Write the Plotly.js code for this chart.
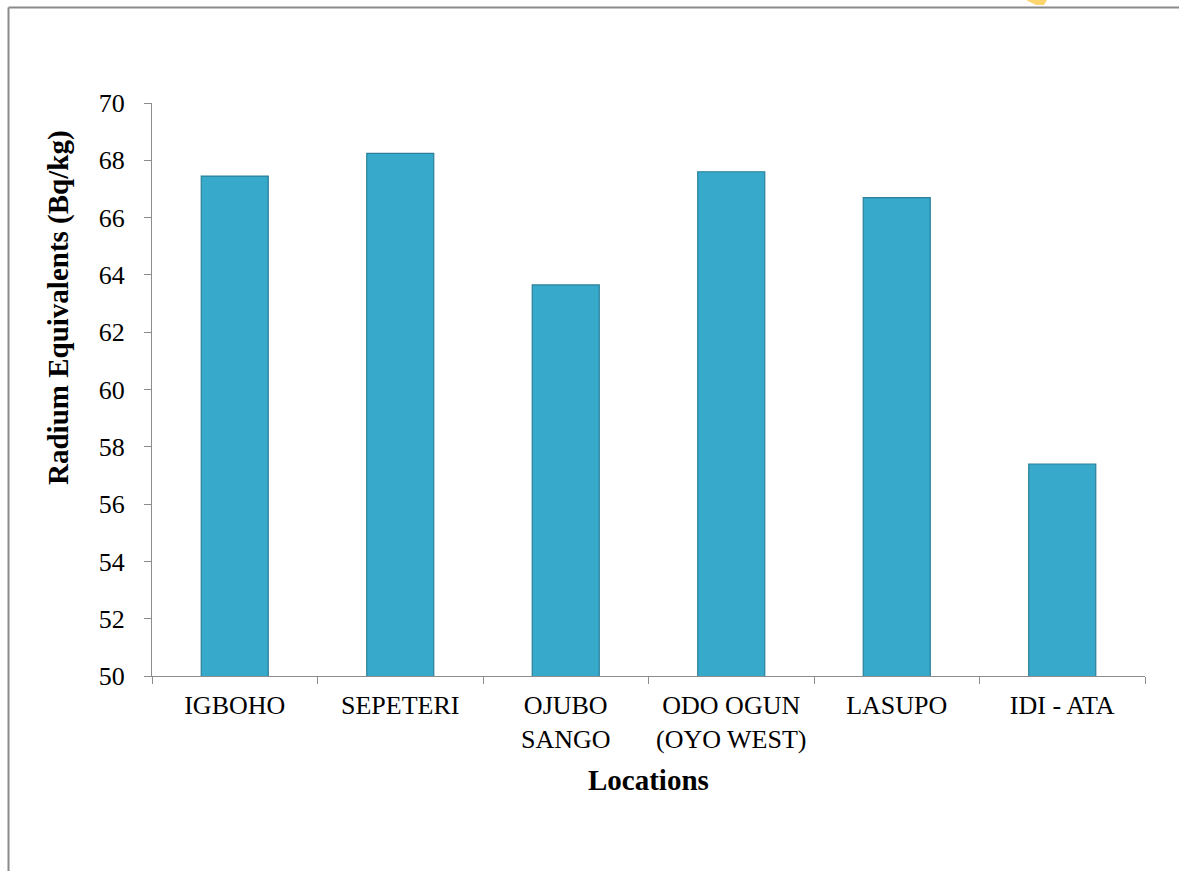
<!DOCTYPE html>
<html>
<head>
<meta charset="utf-8">
<script src="https://cdn.plot.ly/plotly-3.0.1.min.js"></script>
<style>
  html, body { margin: 0; padding: 0; background: #ffffff; }
  #chart { width: 1179px; height: 871px; }
</style>
</head>
<body>
<div id="chart"></div>
<script>
// Data
const locations = ["IGBOHO", "SEPETERI", "OJUBO<br>SANGO", "ODO OGUN<br>(OYO WEST)", "LASUPO", "IDI - ATA"];
const radiumEquivalents = [67.45, 68.24, 63.65, 67.6, 66.7, 57.4];
const yTickValues = [50, 52, 54, 56, 58, 60, 62, 64, 66, 68, 70];

const W = 1179, H = 871;
const L = 152, R = 34, T = 103, B = 195;
const pw = W - L - R, ph = H - T - B;
const px = v => (v - L) / pw;      // pixel -> paper x
const py = v => (H - B - v) / ph;  // pixel -> paper y

const serif = "Liberation Serif, Times New Roman, serif";
const axisGray = "#8c8c8c";

const trace = {
  type: "bar",
  x: locations,
  y: radiumEquivalents,
  marker: {
    color: "#37a9ca",
    line: { color: "#2a8099", width: 1.2 }
  },
  hoverinfo: "x+y"
};

const layout = {
  width: W, height: H,
  margin: { l: L, r: R, t: T, b: B },
  paper_bgcolor: "#ffffff",
  plot_bgcolor: "#ffffff",
  showlegend: false,
  bargap: 0.595,
  font: { family: serif, color: "#000000", size: 26 },
  xaxis: {
    type: "category",
    showline: true, linecolor: axisGray, linewidth: 1,
    ticks: "outside", ticklen: 7, tickcolor: axisGray,
    tickson: "boundaries",
    showgrid: false, zeroline: false,
    tickfont: { family: serif, size: 26, color: "#000000" },
    ticklabelstandoff: 6
  },
  yaxis: {
    range: [50, 70],
    tickvals: yTickValues,
    showline: true, linecolor: axisGray, linewidth: 1,
    ticks: "outside", ticklen: 7, tickcolor: axisGray,
    showgrid: false, zeroline: false,
    tickfont: { family: serif, size: 26, color: "#000000" },
    ticklabelstandoff: 14
  },
  annotations: [
    {
      text: "<b>Radium Equivalents (Bq/kg)</b>",
      xref: "paper", yref: "paper",
      x: px(58), y: py(308),
      xanchor: "center", yanchor: "middle",
      textangle: -90, showarrow: false,
      font: { family: serif, size: 29, color: "#000000" }
    },
    {
      text: "<b>Locations</b>",
      xref: "paper", yref: "paper",
      x: px(648), y: py(780),
      xanchor: "center", yanchor: "middle",
      showarrow: false,
      font: { family: serif, size: 29, color: "#000000" }
    }
  ],
  shapes: [
    { type: "line", xref: "paper", yref: "paper",
      x0: px(8.5), y0: py(7.5), x1: px(1179), y1: py(7.5),
      line: { color: "#8a8a8a", width: 2 } },
    { type: "line", xref: "paper", yref: "paper",
      x0: px(8.5), y0: py(7.5), x1: px(8.5), y1: py(871),
      line: { color: "#8a8a8a", width: 2 } },
    { type: "path", xref: "paper", yref: "paper",
      path: "M " + px(1026) + " " + py(0) + " L " + px(1047) + " " + py(0) +
            " L " + px(1044) + " " + py(5) + " L " + px(1036) + " " + py(5) + " Z",
      fillcolor: "#fcd56e", line: { width: 0 } }
  ]
};

Plotly.newPlot("chart", [trace], layout, { displayModeBar: false, staticPlot: true });
</script>
</body>
</html>
